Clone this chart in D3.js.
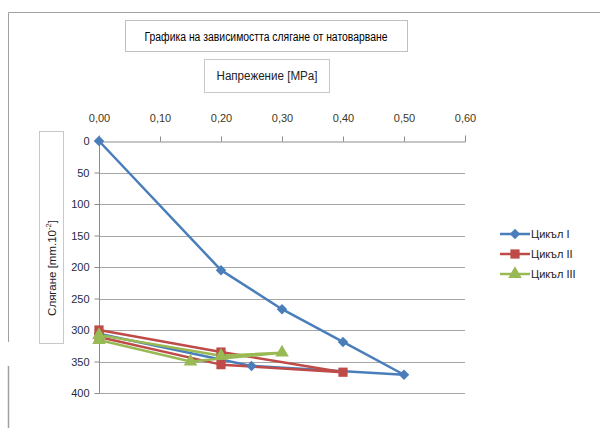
<!DOCTYPE html>
<html>
<head>
<meta charset="utf-8">
<script src="https://cdn.jsdelivr.net/npm/d3@7"></script>
<style>
  html, body { margin: 0; padding: 0; background: #fff; }
  svg { display: block; font-family: "Liberation Sans", Arial, sans-serif; }
</style>
</head>
<body>
<svg id="chart" width="600" height="428"></svg>
<script>
const chartTitle = "Графика на зависимостта слягане от натоварване";
const xTitle = "Напрежение [MPa]";
const seriesNames = ["Цикъл I", "Цикъл II", "Цикъл III"];
const xTicks = [0, 0.1, 0.2, 0.3, 0.4, 0.5, 0.6];
const yTicks = [0, 50, 100, 150, 200, 250, 300, 350, 400];

const cycle1X = [0, 0.2, 0.3, 0.4, 0.5, 0.25, 0];
const cycle1Y = [0, 205, 267, 319, 371, 357, 306];
const cycle2X = [0, 0.2, 0.4, 0.2, 0];
const cycle2Y = [300, 335, 367, 355, 311];
const cycle3X = [0, 0.2, 0.3, 0.15, 0];
const cycle3Y = [308, 341, 336, 350, 316];

const colors = ["#4a7ebb", "#be4b48", "#98b954"];
const shapes = [d3.symbolSquare, d3.symbolSquare, d3.symbolTriangle];
const rotations = [45, 0, 0];
const symSizes = [55, 85, 80];

const series = [
  {name: seriesNames[0], pts: cycle1X.map((x, i) => [x, cycle1Y[i]])},
  {name: seriesNames[1], pts: cycle2X.map((x, i) => [x, cycle2Y[i]])},
  {name: seriesNames[2], pts: cycle3X.map((x, i) => [x, cycle3Y[i]])}
];

const svg = d3.select("#chart");
const x = d3.scaleLinear().domain([0, 0.6]).range([99, 465]);
const y = d3.scaleLinear().domain([0, 400]).range([141, 393]);
const fmt = d => d3.format(".2f")(d).replace(".", ",");

// outer chart border (partial, as in reference)
svg.append("path").attr("d", "M8.5,342 V12.5 H600")
  .attr("fill", "none").attr("stroke", "#a0a0a0").attr("stroke-width", 1);
svg.append("path").attr("d", "M8.5,366 V428")
  .attr("fill", "none").attr("stroke", "#a0a0a0").attr("stroke-width", 1.5);

// title box
svg.append("rect").attr("x", 125.5).attr("y", 20.5).attr("width", 282).attr("height", 31)
  .attr("fill", "#fff").attr("stroke", "#c0c0c0");
svg.append("text").attr("x", 266).attr("y", 41).attr("text-anchor", "middle")
  .attr("font-size", 12.5).attr("fill", "#000")
  .attr("textLength", 243).attr("lengthAdjust", "spacingAndGlyphs")
  .text(chartTitle);

// x title box
svg.append("rect").attr("x", 204.5).attr("y", 59.5).attr("width", 125).attr("height", 33)
  .attr("fill", "#fff").attr("stroke", "#c8c8c8");
svg.append("text").attr("x", 267).attr("y", 80).attr("text-anchor", "middle")
  .attr("font-size", 12).attr("fill", "#222")
  .attr("textLength", 101).attr("lengthAdjust", "spacingAndGlyphs")
  .text(xTitle);

// y title box
svg.append("rect").attr("x", 39.5).attr("y", 131.5).attr("width", 24).attr("height", 212)
  .attr("fill", "#fff").attr("stroke", "#c8c8c8");
const yt = svg.append("text").attr("transform", "translate(56,268) rotate(-90)")
  .attr("text-anchor", "middle").attr("font-size", 11.5).attr("fill", "#222");
yt.append("tspan").text("Слягане [mm.10");
yt.append("tspan").attr("font-size", 7.5).attr("dy", -5).text("-2");
yt.append("tspan").attr("dy", 5).text("]");

// gridlines
svg.append("g").selectAll("line").data(yTicks.slice(1)).join("line")
  .attr("x1", 99).attr("x2", 465)
  .attr("y1", d => Math.round(y(d)) + 0.5).attr("y2", d => Math.round(y(d)) + 0.5)
  .attr("stroke", "#a6a6a6").attr("stroke-width", 1);

// x axis on top
const xAxis = d3.axisTop(x).tickValues(xTicks).tickFormat(fmt).tickSize(6).tickPadding(14);
const gx = svg.append("g").attr("transform", "translate(0,141.5)").call(xAxis);
gx.select(".domain").attr("stroke", "#8c8c8c");
gx.selectAll(".tick line").attr("stroke", "#8c8c8c").attr("y2", -5);
gx.selectAll(".tick text").attr("font-size", 11).attr("fill", "#3d3820")
  .attr("font-family", "Liberation Sans, Arial, sans-serif");

// y axis
const yAxis = d3.axisLeft(y).tickValues(yTicks).tickFormat(d3.format("d")).tickSize(5).tickPadding(5);
const gy = svg.append("g").attr("transform", "translate(99.5,0)").call(yAxis);
gy.select(".domain").attr("stroke", "#8c8c8c").attr("d", `M0,${y(0)}V${y(400)}`);
gy.selectAll(".tick line").attr("stroke", "#8c8c8c");
gy.selectAll(".tick text").attr("font-size", 11).attr("fill", "#1f2a44")
  .attr("font-family", "Liberation Sans, Arial, sans-serif");

// series lines
const line = d3.line().x(d => x(d[0])).y(d => y(d[1]));
const gs = svg.append("g");
series.forEach((s, i) => {
  gs.append("path").datum(s.pts).attr("d", line)
    .attr("fill", "none").attr("stroke", colors[i]).attr("stroke-width", 2.5)
    .attr("stroke-linejoin", "round");
});
series.forEach((s, i) => {
  gs.append("g").selectAll("path").data(s.pts).join("path")
    .attr("transform", d => `translate(${x(d[0])},${y(d[1])}) rotate(${rotations[i]})`)
    .attr("d", d3.symbol().type(shapes[i]).size(symSizes[i]))
    .attr("fill", colors[i]);
});

// legend
const legendY = [234, 254, 274];
const lg = svg.append("g");
seriesNames.forEach((n, i) => {
  const g = lg.append("g").attr("transform", `translate(0,${legendY[i]})`);
  g.append("line").attr("x1", 500).attr("x2", 530).attr("y1", 0).attr("y2", 0)
    .attr("stroke", colors[i]).attr("stroke-width", 2.5);
  g.append("path").attr("transform", `translate(515,0) rotate(${rotations[i]})`)
    .attr("d", d3.symbol().type(shapes[i]).size(symSizes[i])).attr("fill", colors[i]);
  g.append("text").attr("x", 531).attr("y", 4).attr("font-size", 11).attr("fill", "#222").text(n);
});
</script>
</body>
</html>
